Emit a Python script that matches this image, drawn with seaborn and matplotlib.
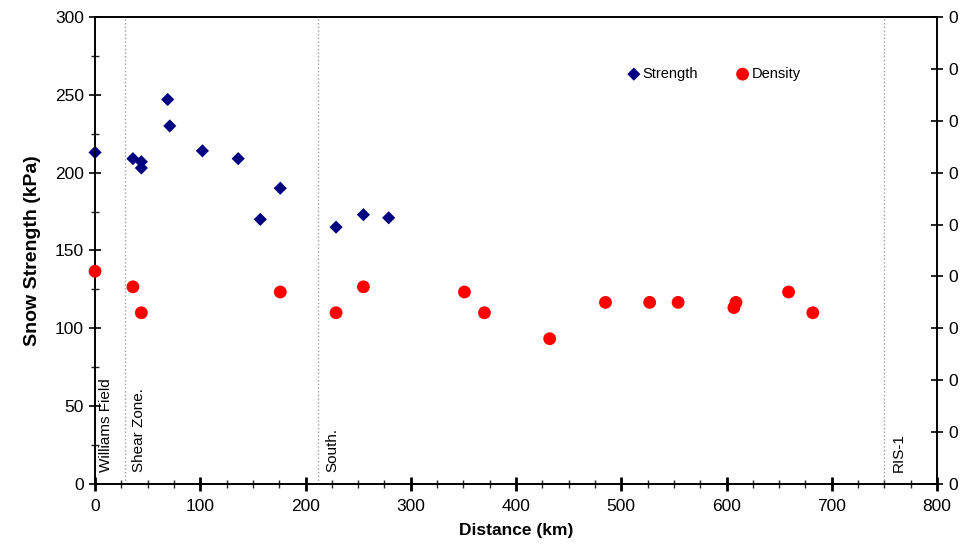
import matplotlib
matplotlib.use('Agg')
import matplotlib.pyplot as plt
import seaborn as sns
import pandas as pd
from matplotlib.ticker import MultipleLocator, FormatStrFormatter

# 强度数据 (kPa)
strength_km = [0, 36, 44, 44, 69, 71, 102, 136, 157, 176, 229, 255, 279]
strength_kpa = [213, 209, 207, 203, 247, 230, 214, 209, 170, 190, 165, 173, 171]

# 密度数据 (右轴)
density_km = [0, 36, 44, 176, 229, 255, 351, 370, 432, 485, 527, 554, 607, 609, 659, 682]
density_val = [0.41, 0.38, 0.33, 0.37, 0.33, 0.38, 0.37, 0.33, 0.28, 0.35, 0.35, 0.35, 0.34, 0.35, 0.37, 0.33]

# 位置标记
site_km = [28, 212, 750]
site_names = ['Shear Zone.', 'South.', 'RIS-1']

sns.set_style('ticks')
plt.rcParams['font.family'] = ['Liberation Sans', 'DejaVu Sans']
plt.rcParams['text.color'] = 'black'
plt.rcParams['axes.labelcolor'] = 'black'

df_s = pd.DataFrame({'km': strength_km, 'val': strength_kpa})
df_d = pd.DataFrame({'km': density_km, 'val': density_val})

fig = plt.figure(figsize=(9.62, 5.48), dpi=100)
ax = fig.add_axes([0.0988, 0.1168, 0.8752, 0.8522])
ax2 = ax.twinx()

sns.scatterplot(data=df_s, x='km', y='val', ax=ax, marker='D', s=45,
                color='#000080', edgecolor='none', label='Strength', legend=False,
                clip_on=False, zorder=5)
sns.scatterplot(data=df_d, x='km', y='val', ax=ax2, marker='o', s=85,
                color='#FF0000', edgecolor='none', label='Density', legend=False,
                clip_on=False, zorder=5)

# 虚线
for k, name in zip(site_km, site_names):
    ax.axvline(k, color='#a0a0a0', linestyle=':', linewidth=1)
    ax.text(k + 7, 8, name, rotation=90, fontsize=11, ha='left', va='bottom')
ax.text(3.5, 8, 'Williams Field', rotation=90, fontsize=11, ha='left', va='bottom')

ax.set_xlim(0, 800)
ax.set_ylim(0, 300)
ax2.set_ylim(0, 0.9)
ax.xaxis.set_major_locator(MultipleLocator(100))
ax.xaxis.set_minor_locator(MultipleLocator(25))
ax.yaxis.set_major_locator(MultipleLocator(50))
ax.yaxis.set_minor_locator(MultipleLocator(25))
ax2.yaxis.set_major_locator(MultipleLocator(0.1))
ax2.yaxis.set_major_formatter(FormatStrFormatter('%d'))

for a in (ax, ax2):
    a.tick_params(which='major', direction='inout', length=9, width=1.2, labelsize=12.5, colors='black')
    a.tick_params(which='minor', direction='inout', length=6, width=1)
    for sp in a.spines.values():
        sp.set_visible(True)
        sp.set_color('black')
        sp.set_linewidth(1.2)
ax.tick_params(axis='x', which='major', length=10, width=2)
ax.tick_params(axis='x', which='major', pad=6)

ax.set_xlabel('Distance (km)', fontsize=12.5, fontweight='bold', labelpad=6)
ax.set_ylabel('Snow Strength (kPa)', fontsize=14, fontweight='bold', labelpad=10)
ax2.set_ylabel('')

h1, l1 = ax.get_legend_handles_labels()
h2, l2 = ax2.get_legend_handles_labels()
ax2.legend(h1 + h2, l1 + l2, ncol=2, frameon=False, fontsize=10.5,
           loc='center', bbox_to_anchor=(0.735, 0.878), handletextpad=0.15,
           handlelength=0.9, columnspacing=2.6, markerscale=1.0)

fig.savefig('out.png', dpi=100)
